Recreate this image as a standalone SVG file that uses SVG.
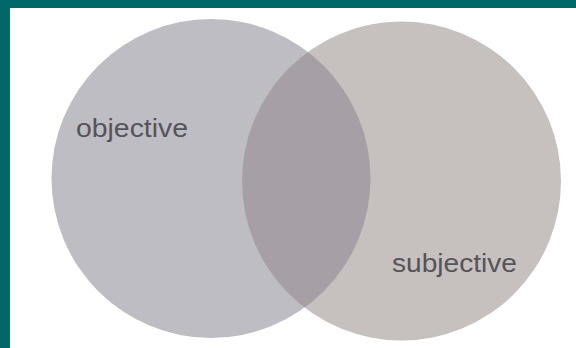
<svg xmlns="http://www.w3.org/2000/svg" width="576" height="348" viewBox="0 0 576 348">
  <style>
    .lbl { font-family: "Liberation Sans", Arial, sans-serif; font-size: 26px; fill: #55545a; }
  </style>
  <defs>
    <clipPath id="clipLeft">
      <circle cx="211" cy="178.5" r="159.5"/>
    </clipPath>
  </defs>
  <rect x="0" y="0" width="576" height="348" fill="#ffffff"/>
  <rect x="0" y="0" width="576" height="8" fill="#006868"/>
  <rect x="0" y="0" width="10" height="348" fill="#006868"/>
  <g id="objective">
    <circle cx="211" cy="178.5" r="159.5" fill="#bfbdc4"/>
  </g>
  <g id="subjective">
    <circle cx="401.5" cy="181" r="159.5" fill="#c6c1be"/>
  </g>
  <g id="overlap">
    <circle cx="401.5" cy="181" r="159.5" fill="#a69fa6" clip-path="url(#clipLeft)"/>
  </g>
  <g id="connectors"/>
  <text class="lbl" x="76" y="137" textLength="112" lengthAdjust="spacingAndGlyphs">objective</text>
  <text class="lbl" x="392" y="272" textLength="125" lengthAdjust="spacingAndGlyphs">subjective</text>
</svg>
